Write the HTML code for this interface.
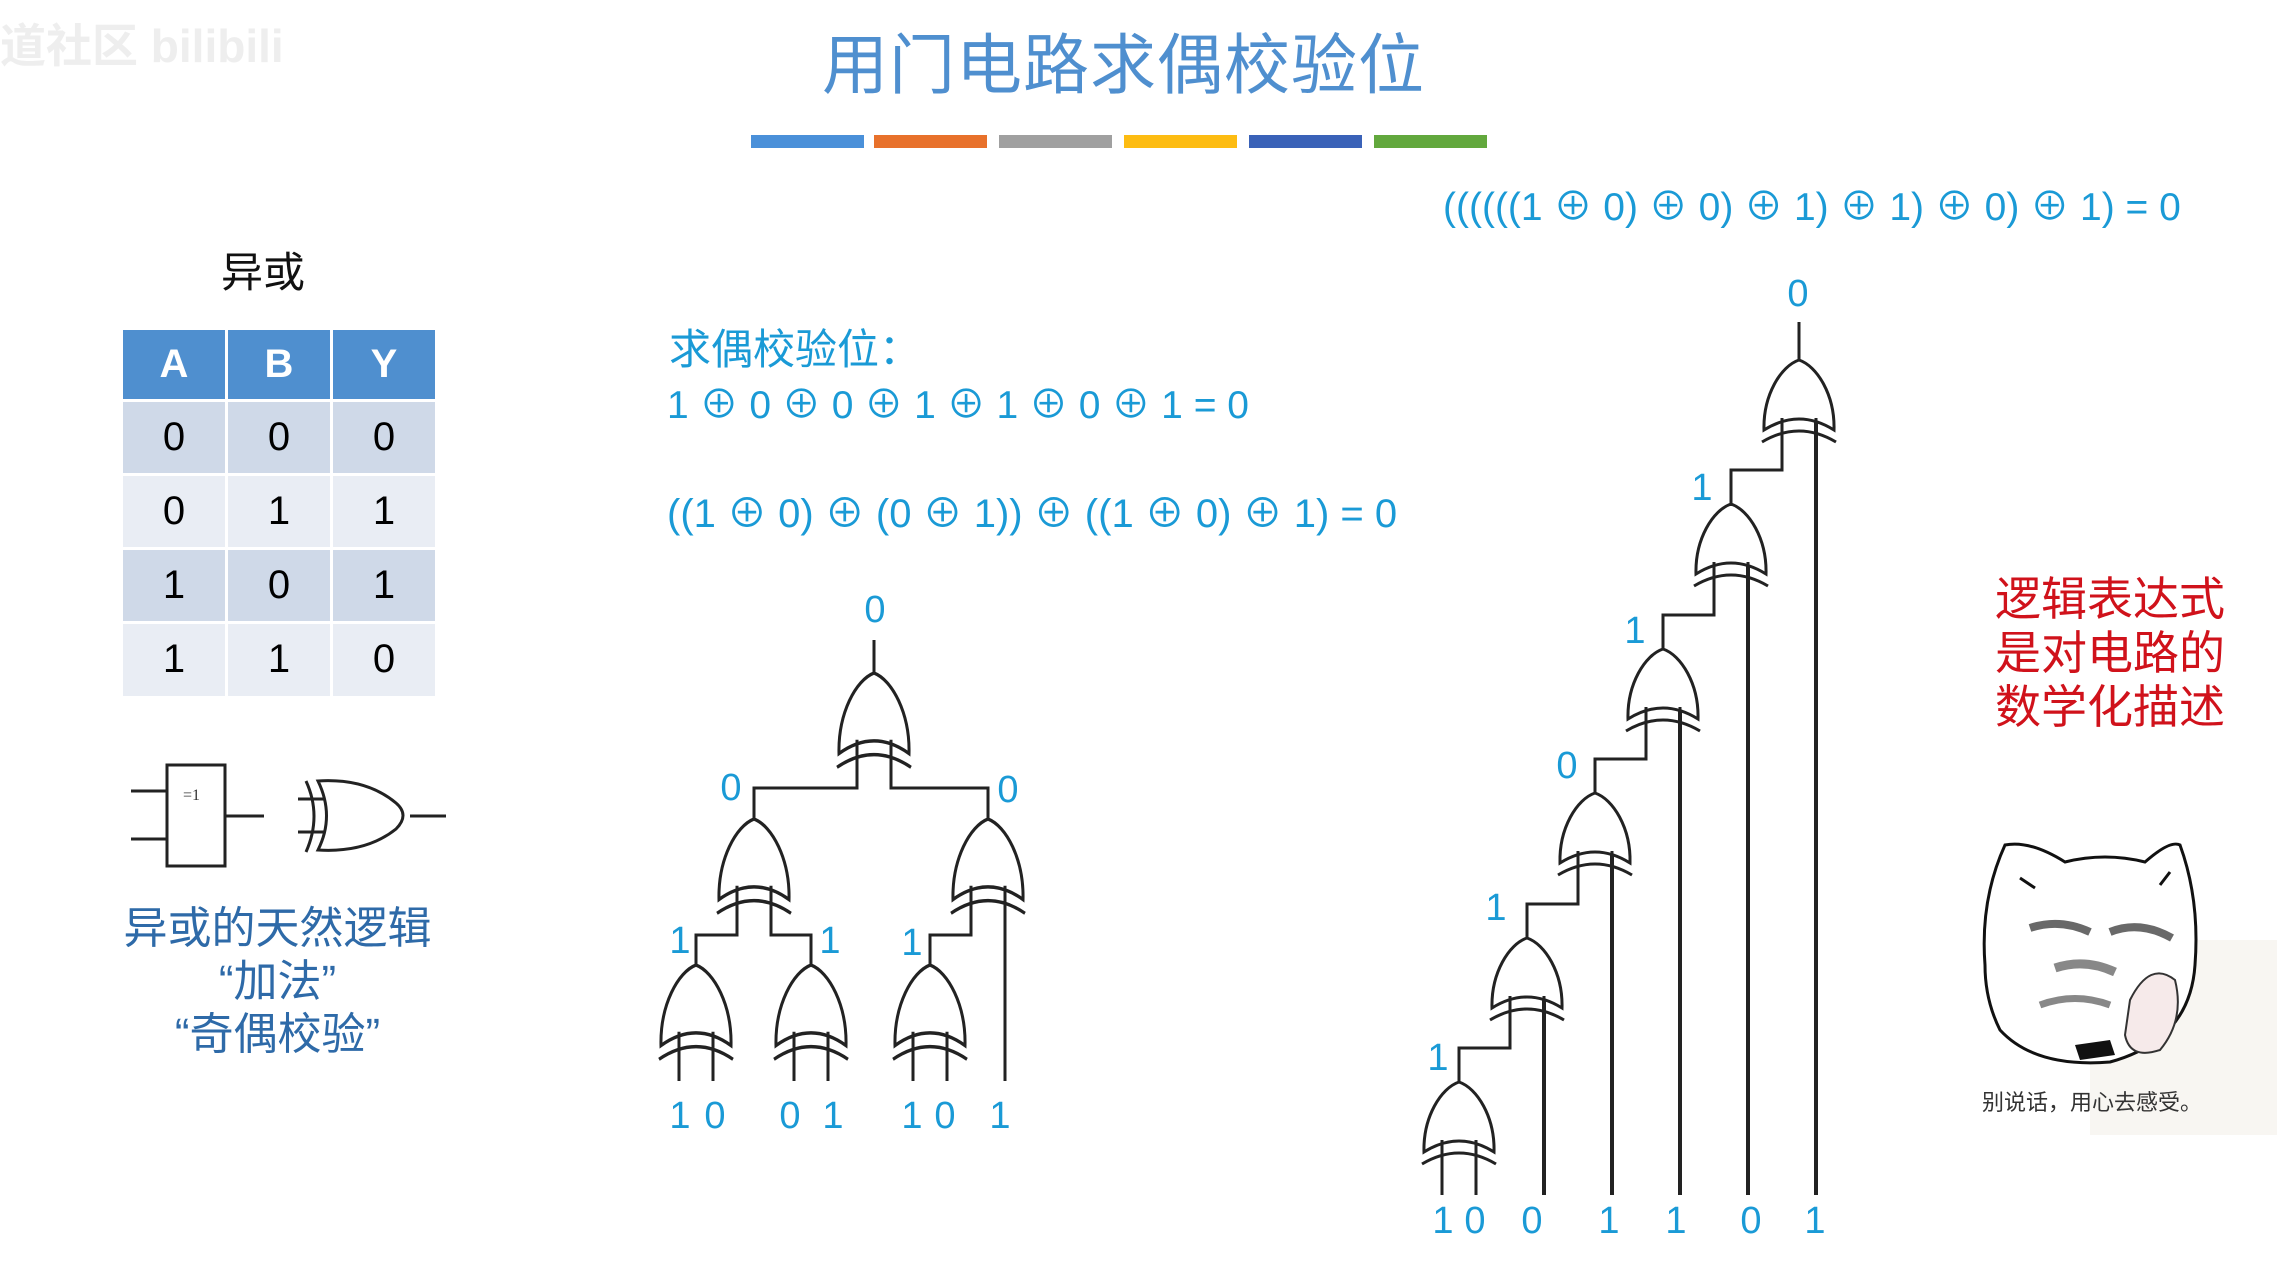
<!DOCTYPE html>
<html><head><meta charset="utf-8">
<style>
html,body{margin:0;padding:0;background:#fff;}
body{width:2277px;height:1270px;position:relative;overflow:hidden;font-family:"Liberation Sans","Noto Sans CJK SC",sans-serif;}
.t{position:absolute;white-space:nowrap;}
</style></head><body>
<div class="t" style="left:0;top:10px;font-size:46px;color:#eee;font-weight:bold;">道社区 bilibili</div>
<div class="t" style="left:822px;top:12px;font-size:66px;color:#4f8fcf;letter-spacing:1px;">用门电路求偶校验位</div>
<div style="position:absolute;top:135px;left:751px;width:113px;height:13px;background:#4a90d9"></div>
<div style="position:absolute;top:135px;left:874px;width:113px;height:13px;background:#e8712b"></div>
<div style="position:absolute;top:135px;left:999px;width:113px;height:13px;background:#a0a0a0"></div>
<div style="position:absolute;top:135px;left:1124px;width:113px;height:13px;background:#fdbc12"></div>
<div style="position:absolute;top:135px;left:1249px;width:113px;height:13px;background:#3a62b8"></div>
<div style="position:absolute;top:135px;left:1374px;width:113px;height:13px;background:#62a83d"></div>

<div class="t" style="left:1443px;top:176px;font-size:39px;color:#1a9ad6;">((((((1 ⊕ 0) ⊕ 0) ⊕ 1) ⊕ 1) ⊕ 0) ⊕ 1) = 0</div>

<div class="t" style="left:221px;top:239px;font-size:42px;color:#111;">异或</div>
<table style="position:absolute;left:123px;top:330px;border-collapse:collapse;font-size:40px;text-align:center;">
<tr style="background:#4f8fcf;color:#fff;font-weight:bold;height:70px"><td style="width:100px;border-right:3px solid #fff">A</td><td style="width:100px;border-right:3px solid #fff">B</td><td style="width:100px">Y</td></tr>
<tr style="background:#cfd9e8;height:74px;border-top:3px solid #fff"><td style="border-right:3px solid #fff">0</td><td style="border-right:3px solid #fff">0</td><td>0</td></tr>
<tr style="background:#e9edf4;height:74px;border-top:3px solid #fff"><td style="border-right:3px solid #fff">0</td><td style="border-right:3px solid #fff">1</td><td>1</td></tr>
<tr style="background:#cfd9e8;height:74px;border-top:3px solid #fff"><td style="border-right:3px solid #fff">1</td><td style="border-right:3px solid #fff">0</td><td>1</td></tr>
<tr style="background:#e9edf4;height:74px;border-top:3px solid #fff"><td style="border-right:3px solid #fff">1</td><td style="border-right:3px solid #fff">1</td><td>0</td></tr>
</table>

<div class="t" style="left:110px;top:902px;width:335px;text-align:center;font-size:44px;line-height:53px;color:#2e6aa8;">异或的天然逻辑<br>“加法”<br>“奇偶校验”</div>

<div class="t" style="left:669px;top:316px;font-size:42px;color:#1a9ad6;">求偶校验位：</div>
<div class="t" style="left:667px;top:374px;font-size:39px;color:#1a9ad6;">1 ⊕ 0 ⊕ 0 ⊕ 1 ⊕ 1 ⊕ 0 ⊕ 1 = 0</div>
<div class="t" style="left:667px;top:481px;font-size:40px;color:#1a9ad6;">((1 ⊕ 0) ⊕ (0 ⊕ 1)) ⊕ ((1 ⊕ 0) ⊕ 1) = 0</div>

<div class="t" style="left:1960px;top:572px;width:300px;text-align:center;font-size:46px;line-height:54px;color:#d0121b;">逻辑表达式<br>是对电路的<br>数学化描述</div>

<svg width="2277" height="1270" style="position:absolute;left:0;top:0" xmlns="http://www.w3.org/2000/svg">
<defs>
<g id="g">
<path d="M-35,70 C-36,35 -18,6 0,0 C18,6 36,35 35,70 Q0,48 -35,70 Z" fill="#fff" stroke="#222" stroke-width="3"/>
<path d="M-37,82 Q0,60 37,82" fill="none" stroke="#222" stroke-width="3"/>
<path d="M-17,58 V84 M17,58 V84" stroke="#222" stroke-width="3"/>
</g>
</defs>
<g fill="none" stroke="#222" stroke-width="3">
<rect x="167" y="765" width="58" height="101"/>
<path d="M131,791 H167 M131,839 H167 M225,816 H264"/>
<path d="M318,781 Q366,778 396,803 Q410,815 396,829 Q366,853 318,850 Q335,816 318,781 Z"/>
<path d="M306,781 Q322,816 306,852"/>
<path d="M298,799 H324 M298,832 H324 M410,816 H446"/>
<!-- tree wires -->
<path d="M874,640 V673 M857,740 V788 H754 V819 M891,740 V788 H988 V819"/>
<path d="M737,886 V935 H696 V965 M771,886 V935 H811 V965"/>
<path d="M971,886 V935 H930 V965 M1005,886 V1081"/>
<path d="M679,1032 V1081 M713,1032 V1081 M794,1032 V1081 M828,1032 V1081 M913,1032 V1081 M947,1032 V1081"/>
<!-- chain wires -->
<path d="M1799,322 V360"/>
<path d="M1442,1142 V1195 M1476,1142 V1195"/>
<path d="M1510,998 V1048 H1459 V1082 M1578,853 V904 H1527 V938 M1646,709 V759 H1595 V793 M1714,564 V615 H1663 V649 M1782,420 V470 H1731 V504"/>
<path d="M1544,998 V1195 M1612,853 V1195 M1680,709 V1195 M1748,564 V1195 M1816,420 V1195" stroke-width="4"/>
</g>
<use href="#g" transform="translate(874,673) scale(1,1.15)"/>
<use href="#g" transform="translate(754,819) scale(1,1.15)"/><use href="#g" transform="translate(988,819) scale(1,1.15)"/>
<use href="#g" transform="translate(696,965) scale(1,1.15)"/><use href="#g" transform="translate(811,965) scale(1,1.15)"/><use href="#g" transform="translate(930,965) scale(1,1.15)"/>
<use href="#g" x="1459" y="1082"/><use href="#g" x="1527" y="938"/><use href="#g" x="1595" y="793"/>
<use href="#g" x="1663" y="649"/><use href="#g" x="1731" y="504"/><use href="#g" x="1799" y="360"/>
<text x="183" y="800" font-size="16" font-family="Liberation Serif" fill="#333">=1</text>
<g font-family="Liberation Sans" font-size="38" fill="#1a9ad6" text-anchor="middle">
<text x="875" y="622">0</text>
<text x="731" y="800">0</text><text x="1008" y="802">0</text>
<text x="680" y="953">1</text><text x="830" y="953">1</text><text x="912" y="955">1</text>
<text x="680" y="1128">1</text><text x="715" y="1128">0</text>
<text x="790" y="1128">0</text><text x="833" y="1128">1</text>
<text x="912" y="1128">1</text><text x="945" y="1128">0</text><text x="1000" y="1128">1</text>
<text x="1798" y="306">0</text>
<text x="1702" y="500">1</text><text x="1635" y="643">1</text><text x="1567" y="778">0</text>
<text x="1496" y="920">1</text><text x="1438" y="1070">1</text>
<text x="1443" y="1233">1</text><text x="1475" y="1233">0</text><text x="1532" y="1233">0</text>
<text x="1609" y="1233">1</text><text x="1676" y="1233">1</text><text x="1751" y="1233">0</text><text x="1815" y="1233">1</text>
</g>
<!-- meme -->
<g>
<rect x="2090" y="940" width="187" height="195" fill="#f8f6f2"/>
<path d="M1985,965 Q1980,900 2005,845 Q2030,840 2065,862 Q2105,852 2145,862 Q2170,840 2180,845 Q2200,900 2195,965 Q2190,1040 2110,1062 Q2035,1068 2000,1030 Q1985,1000 1985,965 Z" fill="#fff" stroke="#111" stroke-width="3"/>
<path d="M2020,878 L2035,888 M2170,872 L2160,885" stroke="#111" stroke-width="3"/>
<path d="M2030,928 Q2060,918 2090,932 M2110,932 Q2140,920 2172,938" stroke="#444" stroke-width="8" fill="none" opacity=".8"/>
<path d="M2055,968 Q2085,958 2115,972" stroke="#555" stroke-width="9" fill="none" opacity=".7"/>
<path d="M2040,1005 Q2075,992 2110,1005" stroke="#555" stroke-width="7" fill="none" opacity=".7"/>
<path d="M2075,1045 L2110,1040 L2115,1055 L2080,1060 Z" fill="#111"/>
<path d="M2130,1000 Q2150,960 2175,980 Q2185,1020 2160,1050 Q2130,1060 2125,1035 Z" fill="#f6eaea" stroke="#333" stroke-width="2"/>
</g>
<text x="1982" y="1110" font-size="22" font-family="Liberation Sans, Noto Sans CJK SC, sans-serif" fill="#333">别说话，用心去感受。</text>
</svg>
</body></html>
